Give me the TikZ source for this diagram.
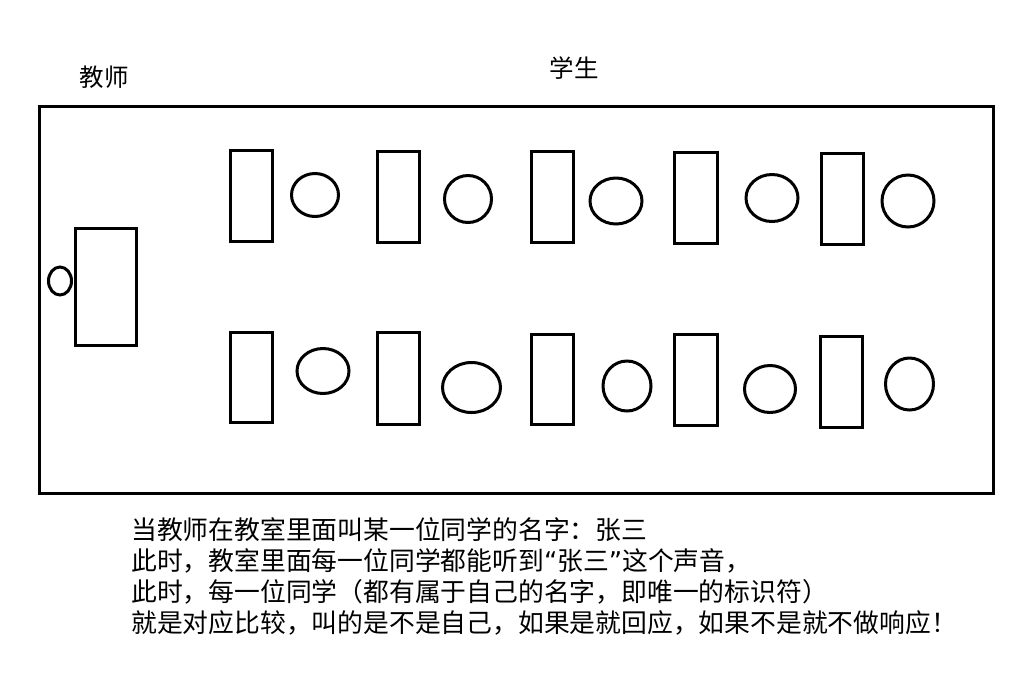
\documentclass[tikz,border=0pt]{standalone}
\usepackage{fontspec}
\newfontfamily\cjk{Noto Sans CJK SC}
\newfontfamily\qfont{DejaVu Sans}
\usetikzlibrary{shapes.geometric}
\tikzset{
  room/.style={draw, line width=3pt, minimum width=954pt, minimum height=387pt, inner sep=0pt},
  desk/.style={draw, line width=3pt, inner sep=0pt, minimum width=42pt, minimum height=91pt},
  head/.style={draw, ellipse, line width=3pt, inner sep=0pt},
  lbl/.style={font=\cjk\fontsize{24.5pt}{28pt}\selectfont, inner sep=0pt},
  body/.style={font=\cjk\fontsize{25.8pt}{28pt}\selectfont, inner sep=0pt, anchor=west}
}
\begin{document}
\begin{tikzpicture}[x=1pt,y=-1pt]
\useasboundingbox (0,0) rectangle (1035,681);
\fill[white] (0,0) rectangle (1035,681);
\node[room] (room) at (516,299.5) {};
\node[lbl] (teacher) at (104,77) {教师};
\node[lbl] (students) at (574,68) {学生};
% teacher
\node[desk, minimum width=61pt, minimum height=117pt] (tdesk) at (106,286.5) {};
\node[head, minimum width=23pt, minimum height=28pt] (thead) at (60,281) {};
% top row
\node[desk] (d1) at (251,195.5) {};
\node[desk] (d2) at (398,196.5) {};
\node[desk] (d3) at (552,197) {};
\node[desk, minimum width=43pt] (d4) at (695.5,197.5) {};
\node[desk] (d5) at (842,199) {};
\node[head, minimum width=47pt, minimum height=43pt] (c1) at (315,195) {};
\node[head, minimum width=47pt, minimum height=47pt] (c2) at (468,199) {};
\node[head, minimum width=52pt, minimum height=46pt] (c3) at (616,201) {};
\node[head, minimum width=52pt, minimum height=47pt] (c4) at (772,198) {};
\node[head, minimum width=52pt, minimum height=52pt] (c5) at (908,201) {};
% bottom row
\node[desk, minimum height=90pt] (e1) at (251,377) {};
\node[desk, minimum height=92pt] (e2) at (398,378) {};
\node[desk, minimum height=90pt] (e3) at (552,379) {};
\node[desk, minimum width=43pt] (e4) at (695.5,379.5) {};
\node[desk] (e5) at (841,381.5) {};
\node[head, minimum width=52pt, minimum height=45pt] (f1) at (323,371) {};
\node[head, minimum width=58pt, minimum height=50pt] (f2) at (471.5,387.5) {};
\node[head, minimum width=48pt, minimum height=50pt] (f3) at (627,386) {};
\node[head, minimum width=51pt, minimum height=47pt] (f4) at (770,389) {};
\node[head, minimum width=48pt, minimum height=52pt] (f5) at (909.5,384) {};
% text
\node[body] (l1) at (131,530) {当教师在教室里面叫某一位同学的名字：张三};
\node[body] (l2) at (131,561) {此时，教室里面每一位同学都能听到{\qfont “}张三{\qfont ”}这个声音，};
\node[body] (l3) at (131,592) {此时，每一位同学（都有属于自己的名字，即唯一的标识符）};
\node[body] (l4) at (131,623) {就是对应比较，叫的是不是自己，如果是就回应，如果不是就不做响应！};
\end{tikzpicture}
\end{document}
